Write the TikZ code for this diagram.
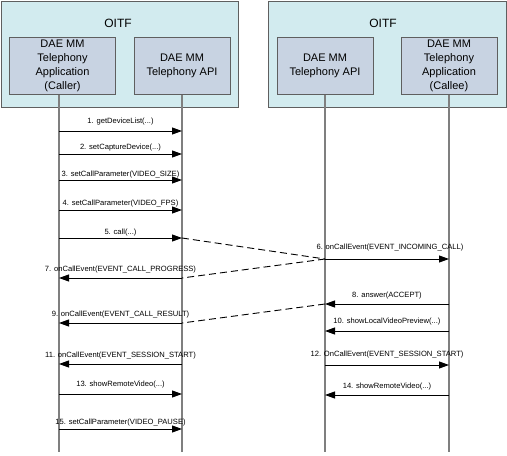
\documentclass[tikz,border=0pt]{standalone}
\usepackage{fontspec}
\setmainfont{Liberation Sans}
\usetikzlibrary{arrows.meta}
\definecolor{oitfbg}{HTML}{D2EBEF}
\definecolor{compbg}{HTML}{C8D3E2}
\definecolor{edgec}{HTML}{5F5F5F}
\definecolor{lifec}{HTML}{7F7F7F}
\begin{document}
\begin{tikzpicture}[x=1pt,y=-1pt,
  oitfbox/.style={draw=edgec, fill=oitfbg, line width=1pt, inner sep=0pt, minimum height=106pt},
  compbox/.style={draw=edgec, fill=compbg, line width=1pt, inner sep=0pt, minimum height=57pt,
    align=center, font=\fontsize{11}{14}\selectfont},
  oitftxt/.style={font=\fontsize{12}{14}\selectfont, inner sep=0pt},
  lifeline/.style={draw=lifec, line width=1.6pt},
  msg/.style={draw=black, line width=0.9pt, -{Triangle[length=10pt,width=7pt]}},
  ret/.style={draw=black, line width=0.9pt, dash pattern=on 7pt off 4pt},
  lbl/.style={font=\fontsize{7.6}{8}\selectfont, inner sep=0pt}]
\useasboundingbox (0,0) rectangle (507,456);
% OITF containers
\node[oitfbox, minimum width=237pt] (oitfL) at (119.5,54) {};
\node[oitfbox, minimum width=238pt] (oitfR) at (387,54) {};
\node[oitftxt] (oitfLt) at (118,23) {OITF};
\node[oitftxt] (oitfRt) at (383,23) {OITF};
% lifelines
\coordinate (L1t) at (59,94);  \coordinate (L1b) at (59,452);
\coordinate (L2t) at (182,94); \coordinate (L2b) at (182,452);
\coordinate (L3t) at (325,94); \coordinate (L3b) at (325,452);
\coordinate (L4t) at (449,94); \coordinate (L4b) at (449,452);
\draw[lifeline] (L1t) -- (L1b);
\draw[lifeline] (L2t) -- (L2b);
\draw[lifeline] (L3t) -- (L3b);
\draw[lifeline] (L4t) -- (L4b);
% components
\node[compbox, minimum width=106pt] (caller) at (62.5,65.5) {DAE MM\\Telephony\\Application\\(Caller)};
\node[compbox, minimum width=96pt] (apiL) at (182,65.5) {DAE MM\\Telephony API};
\node[compbox, minimum width=96pt] (apiR) at (325,65.5) {DAE MM\\Telephony API};
\node[compbox, minimum width=96pt] (callee) at (449,65.5) {DAE MM\\Telephony\\Application\\(Callee)};
% message anchor points
\foreach \n/\y in {1/131,2/154,3/180,4/210,5/238,7/278,9/323,11/364,13/394,15/429}{
  \coordinate (a\n) at (59,\y); \coordinate (b\n) at (182,\y);}
\foreach \n/\y in {6/259,8/304,10/331,12/365,14/395}{
  \coordinate (c\n) at (325,\y); \coordinate (d\n) at (449,\y);}
% messages
\draw[msg] (a1) -- node[lbl, yshift=9pt] (m1) {1. getDeviceList(...)} (b1);
\draw[msg] (a2) -- node[lbl, yshift=6pt] (m2) {2. setCaptureDevice(...)} (b2);
\draw[msg] (a3) -- node[lbl, yshift=5pt] (m3) {3. setCallParameter(VIDEO\_SIZE)} (b3);
\draw[msg] (a4) -- node[lbl, yshift=6pt] (m4) {4. setCallParameter(VIDEO\_FPS)} (b4);
\draw[msg] (a5) -- node[lbl, yshift=5pt] (m5) {5. call(...)} (b5);
\draw[ret] (b5) -- (c6);
\draw[msg] (c6) -- node[lbl, yshift=11pt, xshift=3pt] (m6) {6. onCallEvent(EVENT\_INCOMING\_CALL)} (d6);
\draw[ret] (c6) -- (b7);
\draw[msg] (b7) -- node[lbl, yshift=8pt] (m7) {7. onCallEvent(EVENT\_CALL\_PROGRESS)} (a7);
\draw[msg] (d8) -- node[lbl, yshift=8pt] (m8) {8. answer(ACCEPT)} (c8);
\draw[ret] (c8) -- (b9);
\draw[msg] (b9) -- node[lbl, yshift=8pt] (m9) {9. onCallEvent(EVENT\_CALL\_RESULT)} (a9);
\draw[msg] (d10) -- node[lbl, yshift=9pt] (m10) {10. showLocalVideoPreview(...)} (c10);
\draw[msg] (b11) -- node[lbl, yshift=8pt] (m11) {11. onCallEvent(EVENT\_SESSION\_START)} (a11);
\draw[msg] (c12) -- node[lbl, yshift=10pt] (m12) {12. OnCallEvent(EVENT\_SESSION\_START)} (d12);
\draw[msg] (a13) -- node[lbl, yshift=9pt] (m13) {13. showRemoteVideo(...)} (b13);
\draw[msg] (d14) -- node[lbl, yshift=8pt] (m14) {14. showRemoteVideo(...)} (c14);
\draw[msg] (a15) -- node[lbl, yshift=6pt] (m15) {15. setCallParameter(VIDEO\_PAUSE)} (b15);
\end{tikzpicture}
\end{document}
